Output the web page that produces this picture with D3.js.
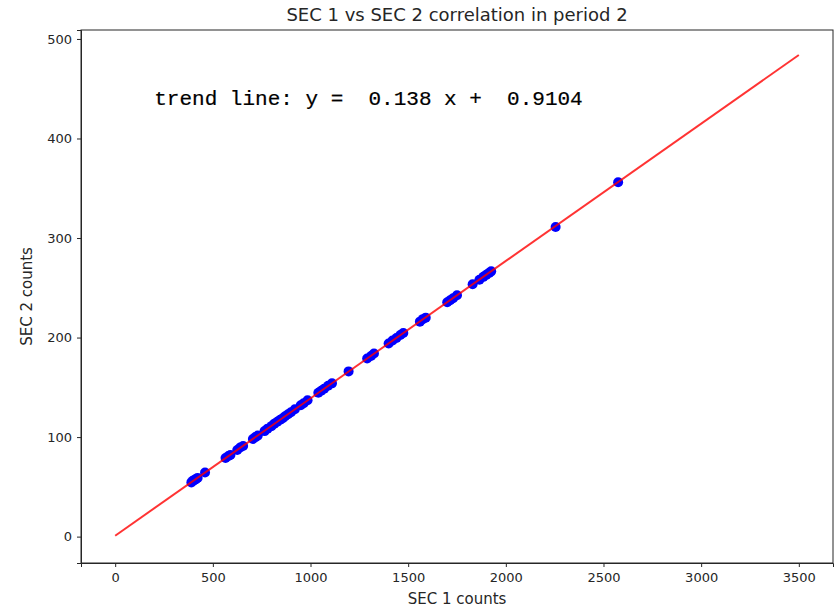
<!DOCTYPE html>
<html>

<head>
  <meta charset="utf-8">
  <title>SEC 1 vs SEC 2 correlation in period 2</title>
  <style type="text/css">
    body {
      margin: 0;
      background: #fff;
    }

    .tick text {
      font-family: "DejaVu Sans", sans-serif;
      font-size: 13px;
      fill: #262626;
    }

    .tick line,
    .domain {
      stroke: #262626;
    }
  </style>
</head>

<body>
  <svg width="837" height="609"></svg>
  <script src="https://d3js.org/d3.v7.min.js"></script>
  <script>
    // 1. data
    var sec1 = [390, 398, 405, 412, 422, 460, 565, 580, 590, 625, 640, 655, 705, 718, 730,
      765, 780, 800, 815, 830, 845, 858, 870, 885, 900, 920, 950, 965, 985, 1040, 1055,
      1070, 1090, 1110, 1195, 1290, 1310, 1325, 1400, 1420, 1440, 1460, 1475, 1560, 1575,
      1590, 1700, 1715, 1730, 1750, 1830, 1865, 1885, 1900, 1915, 1925, 2255, 2575];
    var sec2 = [54.5, 56, 57, 57.5, 59, 64.5, 79, 81, 82, 87, 89.5, 91, 98, 100, 101.5,
      106, 108.5, 111, 113.5, 115.5, 117.5, 119, 121, 123, 125, 128, 132, 134, 137, 144.5, 146.5,
      148.5, 151.5, 154, 166, 179, 181.5, 184, 194, 197, 199.5, 202.5, 204.5, 216, 218.5,
      220, 235.5, 237.5, 239.5, 242.5, 253.5, 258, 261, 263, 265, 266.5, 311, 356];
    var slope = 0.138;
    var intercept = 0.9104;
    var lineX = [0, 3500];
    var xTicks = [0, 500, 1000, 1500, 2000, 2500, 3000, 3500];
    var yTicks = [0, 100, 200, 300, 400, 500];

    // 2. layout
    var mLeft = 81, mRight = 833, mTop = 30, mBottom = 563;
    var svg = d3.select("svg");

    var x = d3.scaleLinear().domain([-175, 3675]).range([mLeft, mRight]);
    var y = d3.scaleLinear().domain([-26.5, 509]).range([mBottom, mTop]);

    svg.append("g")
      .attr("class", "axis")
      .attr("transform", "translate(0," + mBottom + ")")
      .call(d3.axisBottom(x).tickValues(xTicks).tickFormat(d3.format("d"))
        .tickSizeOuter(0).tickSize(4).tickPadding(6));

    svg.append("g")
      .attr("class", "axis")
      .attr("transform", "translate(" + mLeft + ",0)")
      .call(d3.axisLeft(y).tickValues(yTicks).tickFormat(d3.format("d"))
        .tickSizeOuter(0).tickSize(4).tickPadding(5));

    // frame
    svg.append("rect")
      .attr("x", mLeft)
      .attr("y", mTop)
      .attr("width", mRight - mLeft)
      .attr("height", mBottom - mTop)
      .attr("fill", "none")
      .attr("stroke", "#262626")
      .attr("stroke-width", 1);

    // 3. points
    var points = sec1.map(function (d, i) { return { x: d, y: sec2[i] }; });
    svg.append("g")
      .selectAll("circle")
      .data(points)
      .enter()
      .append("circle")
      .attr("cx", function (d) { return x(d.x); })
      .attr("cy", function (d) { return y(d.y); })
      .attr("r", 5)
      .attr("fill", "#0000ff");

    // 4. trend line
    var line = d3.line()
      .x(function (d) { return x(d); })
      .y(function (d) { return y(slope * d + intercept); });
    svg.append("path")
      .datum(lineX)
      .attr("d", line)
      .attr("fill", "none")
      .attr("stroke", "#ff0000")
      .attr("stroke-opacity", 0.8)
      .attr("stroke-width", 2);

    // 5. texts
    svg.append("text")
      .attr("x", x(200))
      .attr("y", y(434))
      .attr("font-family", "Liberation Mono, monospace")
      .attr("font-size", 21)
      .attr("fill", "#000")
      .attr("stroke", "#000")
      .attr("stroke-width", 0.2)
      .style("white-space", "pre")
      .text("trend line: y =  " + slope + " x +  " + intercept);

    svg.append("text")
      .attr("x", (mLeft + mRight) / 2)
      .attr("y", 21)
      .attr("text-anchor", "middle")
      .attr("font-family", "DejaVu Sans, sans-serif")
      .attr("font-size", 18)
      .attr("fill", "#262626")
      .text("SEC 1 vs SEC 2 correlation in period 2");

    svg.append("text")
      .attr("x", (mLeft + mRight) / 2)
      .attr("y", 604)
      .attr("text-anchor", "middle")
      .attr("font-family", "DejaVu Sans, sans-serif")
      .attr("font-size", 15)
      .attr("fill", "#262626")
      .text("SEC 1 counts");

    svg.append("text")
      .attr("transform", "translate(32," + ((mTop + mBottom) / 2) + ") rotate(-90)")
      .attr("text-anchor", "middle")
      .attr("font-family", "DejaVu Sans, sans-serif")
      .attr("font-size", 15)
      .attr("fill", "#262626")
      .text("SEC 2 counts");
  </script>
</body>

</html>
